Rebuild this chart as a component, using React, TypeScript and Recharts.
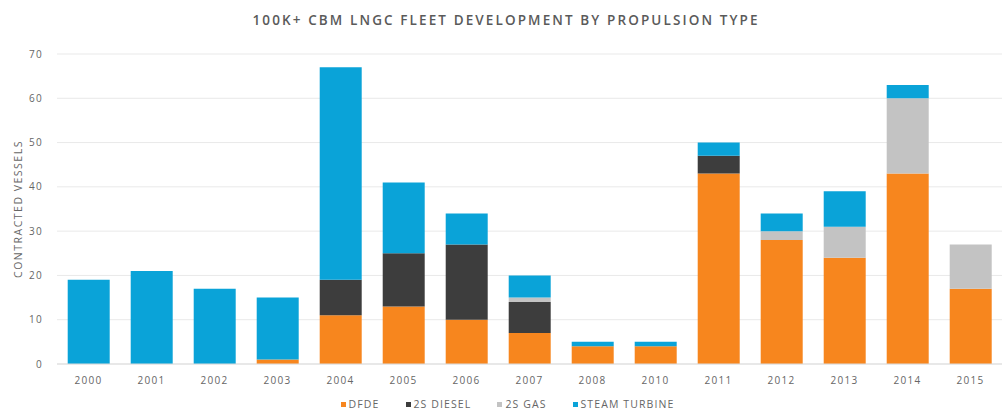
import React from 'react';
import { BarChart, Bar, XAxis, YAxis, CartesianGrid, Legend, Label } from 'recharts';

const years = ['2000', '2001', '2002', '2003', '2004', '2005', '2006', '2007', '2008', '2010', '2011', '2012', '2013', '2014', '2015'];
const dfde = [0, 0, 0, 1, 11, 13, 10, 7, 4, 4, 43, 28, 24, 43, 17];
const diesel2s = [0, 0, 0, 0, 8, 12, 17, 7, 0, 0, 4, 0, 0, 0, 0];
const gas2s = [0, 0, 0, 0, 0, 0, 0, 1, 0, 0, 0, 2, 7, 17, 10];
const steam = [19, 21, 17, 14, 48, 16, 7, 5, 1, 1, 3, 4, 8, 3, 0];
const yTicks = [0, 10, 20, 30, 40, 50, 60, 70];

const series = [
  { key: 'dfde', name: 'DFDE', color: '#f7861e' },
  { key: 'diesel', name: '2S DIESEL', color: '#3d3d3d' },
  { key: 'gas', name: '2S GAS', color: '#c3c3c3' },
  { key: 'steam', name: 'STEAM TURBINE', color: '#0aa3d8' },
];

const data = years.map((year, i) => ({
  year,
  dfde: dfde[i],
  diesel: diesel2s[i],
  gas: gas2s[i],
  steam: steam[i],
}));

const font = '"Open Sans", Arial, sans-serif';

const LegendContent = () => (
  <div style={{ display: 'flex', justifyContent: 'center', alignItems: 'center', fontFamily: font, fontSize: 10.5, color: '#666', letterSpacing: 1.1, paddingLeft: 36 }}>
    {series.map((s) => (
      <span key={s.key} style={{ display: 'inline-flex', alignItems: 'center', marginRight: 26 }}>
        <span style={{ width: 5, height: 5, background: s.color, marginRight: 3, display: 'inline-block' }} />
        {s.name}
      </span>
    ))}
  </div>
);

const App: React.FC = () => {
  return (
    <div style={{ position: 'absolute', left: 0, top: 0, width: 1005, height: 420, background: '#fff' }}>
      <BarChart
        width={1005}
        height={420}
        data={data}
        margin={{ top: 54, right: 3, left: 0, bottom: 26 }}
        barCategoryGap="17%"
      >
        <text x={505} y={25} textAnchor="middle" fontFamily={font} fontSize={13.5} fontWeight={600} fill="#5a5a5a" textLength={505} lengthAdjust="spacing">
          100K+ CBM LNGC FLEET DEVELOPMENT BY PROPULSION TYPE
        </text>
        <CartesianGrid vertical={false} stroke="#e9e9e9" />
        <XAxis
          dataKey="year"
          height={30}
          tickLine={false}
          tickMargin={7}
          axisLine={{ stroke: '#dcdcdc' }}
          tick={{ fontSize: 10, fill: '#666', fontFamily: font, letterSpacing: 1.3 }}
        />
        <YAxis
          width={57}
          domain={[0, 70]}
          ticks={yTicks}
          interval={0}
          tickLine={false}
          axisLine={false}
          tickMargin={8}
          tick={{ fontSize: 10, fill: '#666', fontFamily: font, letterSpacing: 1.3 }}
        >
          <Label
            value="CONTRACTED VESSELS"
            angle={-90}
            position="center"
            dx={-10}
            style={{ fontSize: 10.5, fill: '#666', fontFamily: font, letterSpacing: 1.5, textAnchor: 'middle' }}
          />
        </YAxis>
        <Legend
          verticalAlign="middle"
          align="center"
          layout="horizontal"
          content={<LegendContent />}
          wrapperStyle={{ top: 397, left: 0, width: 1005, height: 16 }}
        />
        {series.map((s) => (
          <Bar key={s.key} dataKey={s.key} name={s.name} stackId="a" fill={s.color} isAnimationActive={false} />
        ))}
      </BarChart>
    </div>
  );
};

export default App;
